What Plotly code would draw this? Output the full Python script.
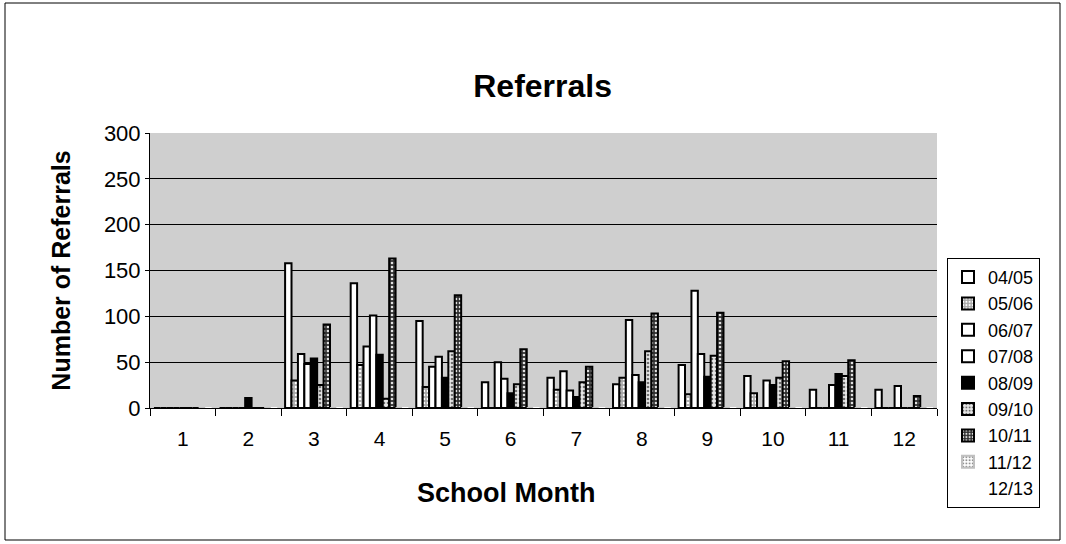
import plotly.graph_objects as go

months = ["1", "2", "3", "4", "5", "6", "7", "8", "9", "10", "11", "12"]
series_names = ["04/05", "05/06", "06/07", "07/08", "08/09", "09/10", "10/11", "11/12", "12/13"]

s0405 = [0, 0, 158, 136, 95, 28, 33, 26, 47, 35, 20, 20]
s0506 = [0, 0, 30, 47, 23, 0, 20, 33, 15, 16, 0, 0]
s0607 = [0, 0, 59, 67, 45, 50, 40, 96, 128, 0, 0, 0]
s0708 = [0, 0, 48, 101, 56, 32, 19, 36, 59, 30, 25, 24]
s0809 = [0, 11, 54, 58, 33, 16, 12, 28, 34, 25, 37, 0]
s0910 = [0, 0, 25, 10, 62, 26, 28, 62, 57, 33, 35, 0]
s1011 = [0, 0, 91, 163, 123, 64, 45, 103, 104, 51, 52, 13]
s1112 = [0] * 12
s1213 = [0] * 12

values = [s0405, s0506, s0607, s0708, s0809, s0910, s1011, s1112, s1213]

styles = [
    dict(bg="white", fg="black", shape="", line="black"),
    dict(bg="#a8a8a8", fg="white", shape=".", line="black"),
    dict(bg="white", fg="black", shape="", line="black"),
    dict(bg="white", fg="black", shape="", line="black"),
    dict(bg="black", fg="black", shape="", line="black"),
    dict(bg="#e8e8e8", fg="#707070", shape=".", line="black"),
    dict(bg="#303030", fg="#e0e0e0", shape=".", line="black"),
    dict(bg="white", fg="#909090", shape=".", line="#c0c0c0"),
    dict(bg="white", fg="white", shape="", line="white"),
]

FONT = "Arial, Liberation Sans, sans-serif"

fig = go.Figure()
for name, vals, st in zip(series_names, values, styles):
    fig.add_trace(go.Bar(
        x=months, y=vals, name=name,
        marker=dict(
            color=st["bg"],
            line=dict(color=st["line"], width=2),
            pattern=dict(shape=st["shape"], bgcolor=st["bg"], fgcolor=st["fg"],
                         size=4, solidity=0.35, fillmode="replace"),
        ),
    ))

fig.update_layout(
    width=1066, height=544,
    margin=dict(l=150, r=129, t=133, b=136),
    paper_bgcolor="white",
    plot_bgcolor="#cfcfcf",
    barmode="group", bargap=0.12, bargroupgap=0,
    font=dict(family=FONT, color="black", size=20),
    title=dict(text="<b>Referrals</b>", x=0.509, xanchor="center",
               y=1 - 86 / 544, yanchor="middle", yref="container",
               font=dict(size=32, family=FONT)),
    legend=dict(x=(947 - 150) / 787, xanchor="left", y=0.546, yanchor="top",
                bordercolor="black", borderwidth=1, bgcolor="white",
                font=dict(size=18, family=FONT),
                itemwidth=30, entrywidth=96, entrywidthmode="pixels"),
    showlegend=True,
)

fig.update_xaxes(
    type="category", tickson="boundaries", ticks="outside", ticklen=7,
    tickcolor="black", showline=True, linecolor="black", linewidth=1,
    showgrid=False, tickfont=dict(size=21), ticklabelstandoff=12,
)
fig.update_yaxes(
    range=[0, 300], dtick=50, ticks="outside", ticklen=4, tickcolor="black",
    showline=True, linecolor="black", linewidth=1,
    showgrid=True, gridcolor="black", gridwidth=1,
    tickfont=dict(size=22), ticklabelstandoff=0, zeroline=False,
    title=dict(text="<b>Number of Referrals</b>", font=dict(size=25), standoff=26),
)

# x axis title placed like the original (left of centre)
fig.add_annotation(text="<b>School Month</b>", xref="paper", yref="paper",
                   x=(506 - 150) / 787, y=(408 - 493) / 275,
                   xanchor="center", yanchor="middle", showarrow=False,
                   font=dict(size=27, family=FONT, color="black"))

# outer chart border
fig.add_shape(type="rect", xref="paper", yref="paper",
              x0=(5 - 150) / 787, x1=(1060 - 150) / 787,
              y0=(408 - 540) / 275, y1=(408 - 3) / 275,
              line=dict(color="black", width=1), fillcolor="rgba(0,0,0,0)",
              layer="below")

fig.write_html("out.html", config={"displayModeBar": False},
               post_script="document.body.style.margin='0px';")
